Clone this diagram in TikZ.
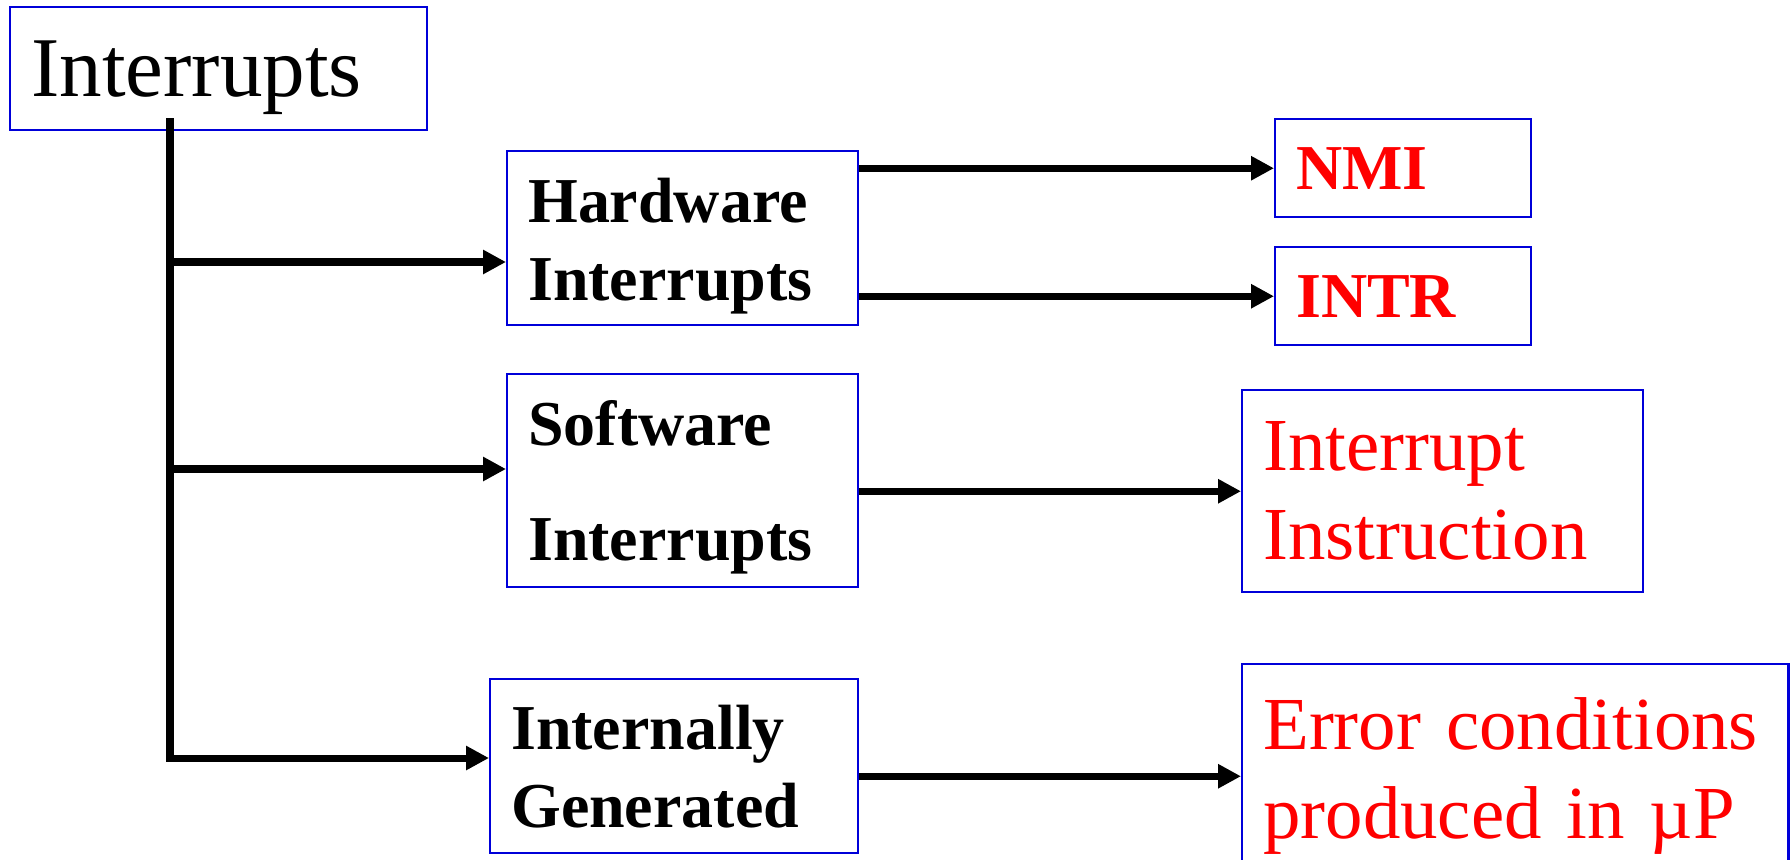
\documentclass[tikz,border=0pt]{standalone}
\usepackage{fontspec}
\setmainfont{Liberation Serif}
\usetikzlibrary{arrows.meta}

\newcommand{\lift}[1]{\rule{0pt}{#1}}

\begin{document}
\begin{tikzpicture}[
    >={Triangle[length=2.3mm, width=2.3mm]},
    wire/.style  = {line width=2pt},
    box/.style   = {draw=blue!85!black, line width=0.7pt, anchor=north west,
                    align=left, inner xsep=0.21cm, inner ysep=0pt},
    head/.style  = {box, font=\fontsize{24.2}{29}\selectfont},
    kind/.style  = {box, font=\fontsize{18.2}{22.2}\selectfont\bfseries},
    cause/.style = {box, text=red, font=\fontsize{18.2}{22.2}\selectfont\bfseries},
    cond/.style  = {box, text=red, font=\fontsize{21.3}{25.3}\selectfont}
]
\clip (0,0) rectangle (17.91,8.59);

% Root
\node[head, text width=3.75cm, minimum height=1.23cm] (top) at (0.09,8.53) {\lift{0.74cm}Interrupts};

% Kinds of interrupt
\node[kind, text width=3.09cm, minimum height=1.74cm] (hw) at (5.06,7.09) {\lift{0.61cm}Hardware\\Interrupts};
\node[kind, text width=3.09cm, minimum height=2.13cm] (sw) at (5.06,4.86) {\lift{0.58cm}Software\\[0.37cm]Interrupts};
\node[kind, text width=3.26cm, minimum height=1.74cm] (ig) at (4.89,1.81) {Internally\\Generated};

% Sources
\node[cause, text width=2.14cm, minimum height=0.98cm] (nmi)  at (12.74,7.41) {NMI};
\node[cause, text width=2.14cm, minimum height=0.98cm] (intr) at (12.74,6.13) {INTR};
\node[cond, text width=3.59cm, minimum height=2.02cm] (ins) at (12.41,4.70) {Interrupt\\Instruction};
\node[cond, text width=5.04cm, minimum height=2.24cm] (err) at (12.41,1.96) {Error conditions\\produced in µP};

% Trunk and branches
\coordinate (root) at (1.70,7.41);
\coordinate (b1) at (1.70,5.97);
\coordinate (b2) at (1.70,3.90);
\coordinate (b3) at (1.70,1.01);
\draw[wire,->] (root) |- (b3 -| ig.west);
\draw[wire,->] (b1) -- (b1 -| hw.west);
\draw[wire,->] (b2) -- (b2 -| sw.west);

% Outputs
\draw[wire,->] (hw.east |- nmi.west)  -- (nmi.west);
\draw[wire,->] (hw.east |- intr.west) -- (intr.west);
\draw[wire,->] (sw.east |- ins.west)  -- (ins.west);
\draw[wire,->] (ig.east |- err.west)  -- (err.west);

\end{tikzpicture}
\end{document}
